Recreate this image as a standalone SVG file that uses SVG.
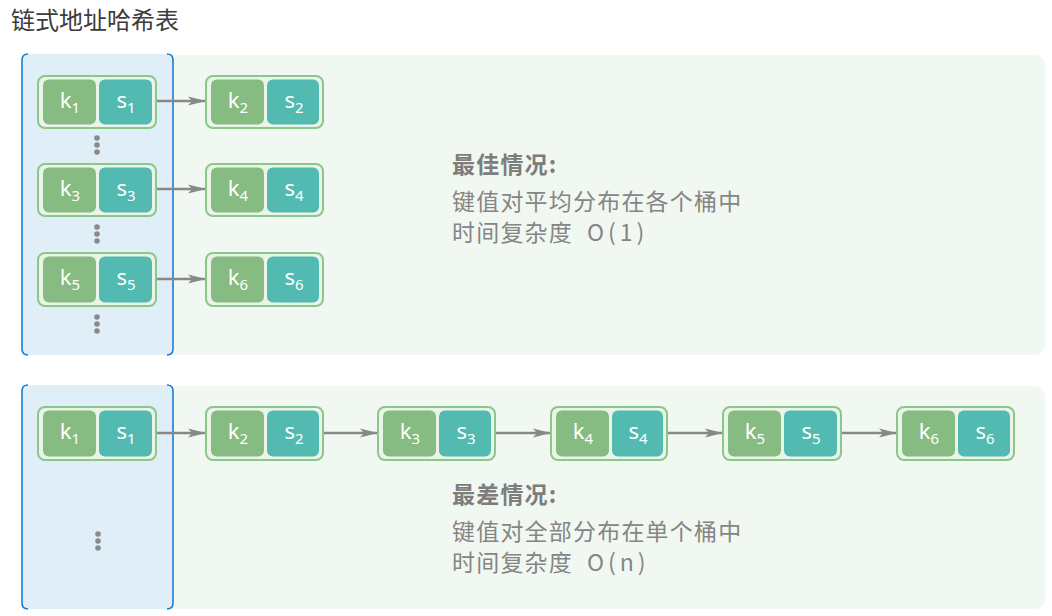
<svg xmlns="http://www.w3.org/2000/svg" width="1052" height="616" viewBox="0 0 1052 616">
<style>
  .panel{fill:#f1f8f1;}
  .bucket{fill:#e0eef8;}
  .bracket{fill:none;stroke:#1a7fd0;stroke-width:1.6;}
  .outer{fill:#eaf4e9;stroke:#8cc78a;stroke-width:2;}
  .k{fill:#86bb81;}
  .s{fill:#52bab1;}
  .lbl{font-family:"Noto Sans","Liberation Sans",sans-serif;font-size:22px;fill:#ffffff;text-anchor:middle;}
  .sub{font-size:15px;}
  .dot{fill:#8a8a8a;}
  .conn{stroke:#888888;stroke-width:2.5;fill:none;marker-end:url(#arrow);}
  .title{font-family:"Noto Sans CJK SC","Noto Sans",sans-serif;font-size:24px;fill:#3c3c3c;}
  .note{font-family:"Noto Sans CJK SC","Noto Sans",sans-serif;font-size:23px;letter-spacing:1.2px;fill:#858585;}
  .bold{font-weight:bold;fill:#7d7d7d;}
</style>
<defs>
  <marker id="arrow" viewBox="0 0 18 12" markerWidth="18" markerHeight="12" refX="17" refY="6" orient="auto" markerUnits="userSpaceOnUse">
    <path d="M0,1.5 L18,6 L0,10.5 L4,6 Z" fill="#888888"/>
  </marker>
</defs>

<text class="title" x="11" y="29">链式地址哈希表</text>

<!-- top panel -->
<g id="panel-best">
  <rect class="panel" x="22" y="55" width="1023" height="300" rx="10"/>
  <rect class="bucket" x="22" y="54" width="151" height="301" rx="6"/>
  <path class="bracket" d="M28,54 Q22,54 22,60 L22,349 Q22,355 28,355 M167,54 Q173,54 173,60 L173,349 Q173,355 167,355"/>
</g>

<!-- bottom panel -->
<g id="panel-worst">
  <rect class="panel" x="22" y="386" width="1023" height="223" rx="10"/>
  <rect class="bucket" x="22" y="385" width="151" height="224" rx="6"/>
  <path class="bracket" d="M28,385 Q22,385 22,391 L22,603 Q22,609 28,609 M167,385 Q173,385 173,391 L173,603 Q173,609 167,609"/>
</g>

<!-- dots -->
<g id="dots">
  <circle class="dot" cx="97" cy="138" r="2.8"/><circle class="dot" cx="97" cy="145" r="2.8"/><circle class="dot" cx="97" cy="152" r="2.8"/>
  <circle class="dot" cx="97" cy="227" r="2.8"/><circle class="dot" cx="97" cy="234" r="2.8"/><circle class="dot" cx="97" cy="241" r="2.8"/>
  <circle class="dot" cx="97" cy="317" r="2.8"/><circle class="dot" cx="97" cy="324" r="2.8"/><circle class="dot" cx="97" cy="331" r="2.8"/>
  <circle class="dot" cx="98" cy="534" r="2.8"/><circle class="dot" cx="98" cy="541" r="2.8"/><circle class="dot" cx="98" cy="548" r="2.8"/>
</g>

<!-- connectors -->
<g id="connectors">
  <line class="conn" x1="156" y1="101" x2="205" y2="101"/>
  <line class="conn" x1="156" y1="189" x2="205" y2="189"/>
  <line class="conn" x1="156" y1="279" x2="205" y2="279"/>
  <line class="conn" x1="156" y1="433" x2="205" y2="433"/>
  <line class="conn" x1="323" y1="433" x2="377" y2="433"/>
  <line class="conn" x1="495" y1="433" x2="550" y2="433"/>
  <line class="conn" x1="667" y1="433" x2="722" y2="433"/>
  <line class="conn" x1="841" y1="433" x2="896" y2="433"/>
</g>

<!-- top nodes -->
<g id="t-k1s1" transform="translate(38,76)">
  <rect class="outer" x="0" y="0" width="118" height="52" rx="7"/>
  <rect class="k" x="5" y="3.5" width="53" height="45" rx="6"/>
  <rect class="s" x="61" y="3.5" width="53" height="45" rx="6"/>
  <text class="lbl" x="32" y="32">k<tspan class="sub" dy="5">1</tspan></text>
  <text class="lbl" x="88" y="32">s<tspan class="sub" dy="5">1</tspan></text>
</g>
<g id="t-k2s2" transform="translate(206,76)">
  <rect class="outer" x="0" y="0" width="117" height="52" rx="7"/>
  <rect class="k" x="5" y="3.5" width="53" height="45" rx="6"/>
  <rect class="s" x="61" y="3.5" width="52" height="45" rx="6"/>
  <text class="lbl" x="32" y="32">k<tspan class="sub" dy="5">2</tspan></text>
  <text class="lbl" x="88" y="32">s<tspan class="sub" dy="5">2</tspan></text>
</g>
<g id="t-k3s3" transform="translate(38,164)">
  <rect class="outer" x="0" y="0" width="118" height="52" rx="7"/>
  <rect class="k" x="5" y="3.5" width="53" height="45" rx="6"/>
  <rect class="s" x="61" y="3.5" width="53" height="45" rx="6"/>
  <text class="lbl" x="32" y="32">k<tspan class="sub" dy="5">3</tspan></text>
  <text class="lbl" x="88" y="32">s<tspan class="sub" dy="5">3</tspan></text>
</g>
<g id="t-k4s4" transform="translate(206,164)">
  <rect class="outer" x="0" y="0" width="117" height="52" rx="7"/>
  <rect class="k" x="5" y="3.5" width="53" height="45" rx="6"/>
  <rect class="s" x="61" y="3.5" width="52" height="45" rx="6"/>
  <text class="lbl" x="32" y="32">k<tspan class="sub" dy="5">4</tspan></text>
  <text class="lbl" x="88" y="32">s<tspan class="sub" dy="5">4</tspan></text>
</g>
<g id="t-k5s5" transform="translate(38,253)">
  <rect class="outer" x="0" y="0" width="118" height="53" rx="7"/>
  <rect class="k" x="5" y="3.5" width="53" height="46" rx="6"/>
  <rect class="s" x="61" y="3.5" width="53" height="46" rx="6"/>
  <text class="lbl" x="32" y="32">k<tspan class="sub" dy="5">5</tspan></text>
  <text class="lbl" x="88" y="32">s<tspan class="sub" dy="5">5</tspan></text>
</g>
<g id="t-k6s6" transform="translate(206,253)">
  <rect class="outer" x="0" y="0" width="117" height="53" rx="7"/>
  <rect class="k" x="5" y="3.5" width="53" height="46" rx="6"/>
  <rect class="s" x="61" y="3.5" width="52" height="46" rx="6"/>
  <text class="lbl" x="32" y="32">k<tspan class="sub" dy="5">6</tspan></text>
  <text class="lbl" x="88" y="32">s<tspan class="sub" dy="5">6</tspan></text>
</g>

<!-- bottom nodes -->
<g id="b-k1s1" transform="translate(38,407)">
  <rect class="outer" x="0" y="0" width="118" height="53" rx="7"/>
  <rect class="k" x="5" y="3.5" width="53" height="46" rx="6"/>
  <rect class="s" x="61" y="3.5" width="53" height="46" rx="6"/>
  <text class="lbl" x="32" y="32">k<tspan class="sub" dy="5">1</tspan></text>
  <text class="lbl" x="88" y="32">s<tspan class="sub" dy="5">1</tspan></text>
</g>
<g id="b-k2s2" transform="translate(206,407)">
  <rect class="outer" x="0" y="0" width="117" height="53" rx="7"/>
  <rect class="k" x="5" y="3.5" width="53" height="46" rx="6"/>
  <rect class="s" x="61" y="3.5" width="52" height="46" rx="6"/>
  <text class="lbl" x="32" y="32">k<tspan class="sub" dy="5">2</tspan></text>
  <text class="lbl" x="88" y="32">s<tspan class="sub" dy="5">2</tspan></text>
</g>
<g id="b-k3s3" transform="translate(378,407)">
  <rect class="outer" x="0" y="0" width="117" height="53" rx="7"/>
  <rect class="k" x="5" y="3.5" width="53" height="46" rx="6"/>
  <rect class="s" x="61" y="3.5" width="52" height="46" rx="6"/>
  <text class="lbl" x="32" y="32">k<tspan class="sub" dy="5">3</tspan></text>
  <text class="lbl" x="88" y="32">s<tspan class="sub" dy="5">3</tspan></text>
</g>
<g id="b-k4s4" transform="translate(551,407)">
  <rect class="outer" x="0" y="0" width="116" height="53" rx="7"/>
  <rect class="k" x="5" y="3.5" width="53" height="46" rx="6"/>
  <rect class="s" x="61" y="3.5" width="51" height="46" rx="6"/>
  <text class="lbl" x="32" y="32">k<tspan class="sub" dy="5">4</tspan></text>
  <text class="lbl" x="87" y="32">s<tspan class="sub" dy="5">4</tspan></text>
</g>
<g id="b-k5s5" transform="translate(723,407)">
  <rect class="outer" x="0" y="0" width="118" height="53" rx="7"/>
  <rect class="k" x="5" y="3.5" width="53" height="46" rx="6"/>
  <rect class="s" x="61" y="3.5" width="53" height="46" rx="6"/>
  <text class="lbl" x="32" y="32">k<tspan class="sub" dy="5">5</tspan></text>
  <text class="lbl" x="88" y="32">s<tspan class="sub" dy="5">5</tspan></text>
</g>
<g id="b-k6s6" transform="translate(897,407)">
  <rect class="outer" x="0" y="0" width="117" height="53" rx="7"/>
  <rect class="k" x="5" y="3.5" width="53" height="46" rx="6"/>
  <rect class="s" x="61" y="3.5" width="52" height="46" rx="6"/>
  <text class="lbl" x="32" y="32">k<tspan class="sub" dy="5">6</tspan></text>
  <text class="lbl" x="88" y="32">s<tspan class="sub" dy="5">6</tspan></text>
</g>

<!-- notes -->
<g id="note-best">
  <text class="note bold" x="452" y="173">最佳情况:</text>
  <text class="note" x="452" y="210">键值对平均分布在各个桶中</text>
  <text class="note" x="452" y="241">时间复杂度<tspan x="587" letter-spacing="4">O(1)</tspan></text>
</g>
<g id="note-worst">
  <text class="note bold" x="452" y="503">最差情况:</text>
  <text class="note" x="452" y="540">键值对全部分布在单个桶中</text>
  <text class="note" x="452" y="571">时间复杂度<tspan x="587" letter-spacing="4">O(n)</tspan></text>
</g>
</svg>
